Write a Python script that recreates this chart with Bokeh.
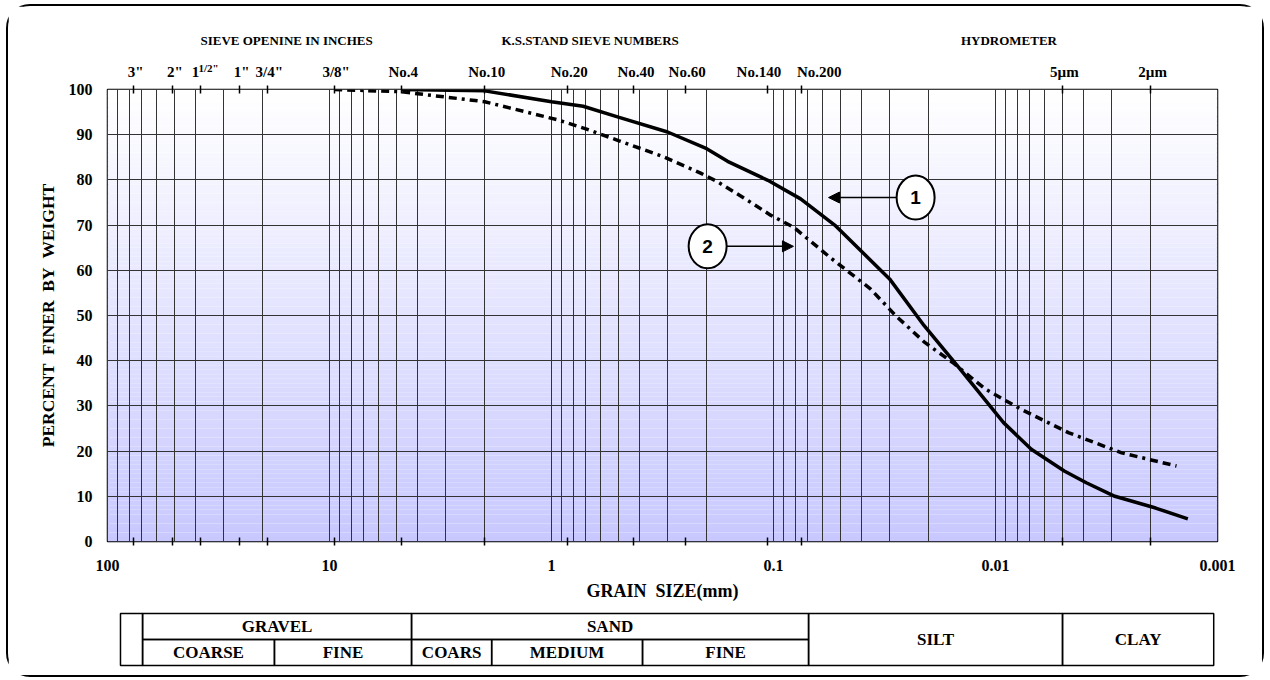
import numpy as np
from bokeh.plotting import figure
from bokeh.models import Range1d, FixedTicker, LogAxis, Arrow, NormalHead
from bokeh.layouts import column
from bokeh.embed import file_html
from bokeh.resources import INLINE
from bokeh.core.properties import value

# ---------------- data ----------------
curve1_size = [4.75, 2.0, 1.0, 0.72, 0.5, 0.3, 0.2, 0.161, 0.106, 0.0755, 0.053, 0.030,
               0.021, 0.0144, 0.0092, 0.0069, 0.0049, 0.0039, 0.0029, 0.0019, 0.00136]
curve1_pct = [100, 99.7, 97.3, 96.3, 93.9, 90.6, 86.9, 84.1, 79.9, 75.8, 70.0, 58.1,
              47.8, 38.1, 26.3, 20.4, 15.6, 13.0, 10.0, 7.4, 5.0]

curve2_size = [9.525, 4.75, 2.0, 0.94, 0.70, 0.5, 0.316, 0.213, 0.179, 0.136, 0.103, 0.081,
               0.0548, 0.0366, 0.0282, 0.0209, 0.0156, 0.0111, 0.0077, 0.0047, 0.0027, 0.00153]
curve2_pct = [100, 99.5, 97.3, 93.3, 91.3, 88.7, 85.2, 81.5, 79.6, 76.0, 72.2, 69.5,
              62.6, 55.9, 50.0, 44.1, 39.6, 33.7, 29.3, 24.1, 19.6, 16.7]

sieve_sizes = [76.2, 50.8, 38.1, 25.4, 19.05, 9.525, 4.75, 2.0, 0.85, 0.425, 0.25, 0.106, 0.075, 0.005, 0.002]
sieve_labels = ['3"', '2"', '1', '1"', '3/4"', '3/8"', 'No.4', 'No.10', 'No.20',
                'No.40', 'No.60', 'No.140', 'No.200', '5\u00b5m', '2\u00b5m']
half_inch_size = [38.1]
half_inch_label = ['1/2"']
decades = [100, 10, 1, 0.1, 0.01, 0.001]
decade_labels = ["100", "10", "1", "0.1", "0.01", "0.001"]
pct_ticks = [0, 10, 20, 30, 40, 50, 60, 70, 80, 90, 100]
section_titles = ["SIEVE OPENINE IN INCHES", "K.S.STAND SIEVE NUMBERS", "HYDROMETER"]
section_title_size = [15.6, 0.67, 0.0087]

callout_labels = ["1", "2"]
callout_size = [0.0229, 0.198]
callout_pct = [76.1, 65.3]
arrow_start = [0.0279, 0.163]
arrow_tip = [0.0565, 0.0813]

# classification table (boundaries in mm)
table_outer = [87.4, 69.5]
top_names = ["GRAVEL", "SAND"]
top_bounds = [(69.5, 4.27), (4.27, 0.0695)]
full_names = ["SILT", "CLAY"]
full_bounds = [(0.0695, 0.00499), (0.00499, 0.00104)]
sub_names = ["COARSE", "FINE", "COARS", "MEDIUM", "FINE"]
sub_bounds = [(69.5, 17.7), (17.7, 4.27), (4.27, 1.86), (1.86, 0.389), (0.389, 0.0695)]

SERIF = "Liberation Serif"
NB = "\u00a0"
W = 1254
ML, MR = 99, 45
HH = 74  # header height (page y 6 .. 80)

x_rng = Range1d(100, 0.001)


def bare(fig):
    fig.outline_line_color = None
    fig.background_fill_color = "white"
    fig.border_fill_color = "white"
    fig.grid.visible = False


# ---------------- header (titles + sieve names) ----------------
h = figure(width=W, height=HH, x_axis_type="log", x_range=x_rng, y_range=Range1d(0, HH),
           output_backend="svg", toolbar_location=None, x_axis_location=None, y_axis_location=None,
           min_border_left=ML, min_border_right=MR, min_border_top=0, min_border_bottom=0)
bare(h)
h.text(x=section_title_size, y=[HH - 34] * 3, text=section_titles, text_font=value(SERIF),
       text_font_style="bold", text_font_size="13px", text_align="center", text_baseline="middle")
label_shift = {'1': -5, 'No.140': -9, 'No.200': 18}
h.text(x=sieve_sizes, y=[HH - 65] * len(sieve_sizes), text=sieve_labels, text_font=value(SERIF),
       text_font_style="bold", text_font_size="15px", text_align="center", text_baseline="middle",
       x_offset=[label_shift.get(l, 2) for l in sieve_labels])
h.text(x=half_inch_size, y=[HH - 61], text=half_inch_label, text_font=value(SERIF),
       text_font_style="bold", text_font_size="11px", text_align="left", text_baseline="middle",
       x_offset=-2)

# ---------------- main chart ----------------
p = figure(width=W, height=525, x_axis_type="log", x_range=x_rng, y_range=Range1d(0, 100),
           output_backend="svg", toolbar_location=None,
           min_border_left=ML, min_border_right=MR, min_border_top=9, min_border_bottom=64)
p.background_fill_color = "white"
p.border_fill_color = "white"
p.outline_line_color = "black"
p.outline_line_width = 1.5

# gradient background (styling bands)
nb = 100
b0 = np.linspace(0, 100, nb + 1)[:-1]
b1 = np.linspace(0, 100, nb + 1)[1:]
cols = []
for f in (b0 + b1) / 200.0:
    r = int(round(200 + 55 * f))
    cols.append("#%02x%02x%02x" % (r, r, 255))
p.quad(left=[100] * nb, right=[0.001] * nb, bottom=b0, top=b1, fill_color=cols,
       line_color=None, level="image")

# grids
grid_sizes = [m * 10.0 ** e for e in range(-3, 2) for m in range(1, 10)] + [100]
p.xgrid.ticker = FixedTicker(ticks=grid_sizes)
p.ygrid.ticker = FixedTicker(ticks=pct_ticks)
for g in (p.xgrid, p.ygrid):
    g.grid_line_color = "#333333"
    g.grid_line_width = 1
    g.grid_line_alpha = 1

# bottom axis
xa = p.xaxis[0]
xa.ticker = FixedTicker(ticks=decades, minor_ticks=sieve_sizes)
xa.major_label_overrides = {d: l for d, l in zip(decades, decade_labels)}
xa.major_tick_line_color = None
xa.major_tick_in = 0
xa.major_tick_out = 0
xa.minor_tick_in = 4
xa.minor_tick_out = 4
xa.minor_tick_line_width = 1.5
xa.minor_tick_line_color = "black"
xa.axis_line_color = None
xa.major_label_standoff = 14
xa.major_label_text_font = SERIF
xa.major_label_text_font_style = "bold"
xa.major_label_text_font_size = "16px"
xa.major_label_text_color = "black"
xa.axis_label = "GRAIN" + NB + NB + "SIZE(mm)"
xa.axis_label_text_font = SERIF
xa.axis_label_text_font_style = "bold"
xa.axis_label_text_font_size = "18px"
xa.axis_label_text_color = "black"
xa.axis_label_standoff = 7

# left axis
ya = p.yaxis[0]
ya.ticker = FixedTicker(ticks=pct_ticks)
ya.major_tick_line_color = None
ya.major_tick_in = 0
ya.major_tick_out = 0
ya.minor_tick_line_color = None
ya.axis_line_color = None
ya.major_label_standoff = 15
ya.major_label_text_font = SERIF
ya.major_label_text_font_style = "bold"
ya.major_label_text_font_size = "16px"
ya.major_label_text_color = "black"
ya.axis_label = (NB + NB).join(["PERCENT", "FINER", "BY", "WEIGHT"])
ya.axis_label_text_font = SERIF
ya.axis_label_text_font_style = "bold"
ya.axis_label_text_font_size = "17.5px"
ya.axis_label_text_color = "black"
ya.axis_label_standoff = 8

# top tick marks at sieve sizes
ta = LogAxis(ticker=FixedTicker(ticks=sieve_sizes),
             major_label_overrides={s: "" for s in sieve_sizes})
ta.major_tick_in = 4
ta.major_tick_out = 4
ta.major_tick_line_width = 1.5
ta.major_tick_line_color = "black"
ta.minor_tick_line_color = None
ta.axis_line_color = None
ta.major_label_standoff = 0
ta.major_label_text_font_size = "0px"
p.add_layout(ta, "above")

# curves
p.line(curve1_size, curve1_pct, line_color="black", line_width=3.5)
p.line(curve2_size, curve2_pct, line_color="black", line_width=3.5, line_dash="8 5 8 5 3 5")

# callouts
for xs, xe, yy in zip(arrow_start, arrow_tip, callout_pct):
    p.add_layout(Arrow(end=NormalHead(size=11, fill_color="black", line_color="black"),
                       x_start=xs, y_start=yy, x_end=xe, y_end=yy,
                       line_color="black", line_width=1.5))
p.ellipse(x=callout_size, y=callout_pct, width=38, height=44, width_units="screen",
          height_units="screen", fill_color="white", line_color="black", line_width=2)
p.text(x=callout_size, y=callout_pct, text=callout_labels, text_font=value("Liberation Sans"),
       text_font_style="bold", text_font_size="19px", text_align="center", text_baseline="middle")

# ---------------- classification table ----------------
t = figure(width=W, height=70, x_axis_type="log", x_range=x_rng, y_range=Range1d(-0.08, 2.08),
           output_backend="svg", toolbar_location=None, x_axis_location=None, y_axis_location=None,
           min_border_left=ML, min_border_right=MR, min_border_top=6, min_border_bottom=8)
bare(t)

L, R, B, T = [], [], [], []
L.append(table_outer[0]); R.append(table_outer[1]); B.append(0); T.append(2)
for (a, b) in top_bounds:
    L.append(a); R.append(b); B.append(1); T.append(2)
for (a, b) in full_bounds:
    L.append(a); R.append(b); B.append(0); T.append(2)
for (a, b) in sub_bounds:
    L.append(a); R.append(b); B.append(0); T.append(1)
t.quad(left=L, right=R, bottom=B, top=T, fill_color=None, line_color="black", line_width=1.5)

tx, ty, tt = [], [], []
for n, (a, b) in zip(top_names, top_bounds):
    tx.append(np.sqrt(a * b)); ty.append(1.5); tt.append(n)
for n, (a, b) in zip(full_names, full_bounds):
    tx.append(np.sqrt(a * b)); ty.append(1.0); tt.append(n)
for n, (a, b) in zip(sub_names, sub_bounds):
    tx.append(np.sqrt(a * b)); ty.append(0.5); tt.append(n)
t.text(x=tx, y=ty, text=tt, text_font=value(SERIF), text_font_style="bold",
       text_font_size="17px", text_align="center", text_baseline="middle")

layout = column(h, p, t, spacing=0,
                styles={"border": "2px solid black", "border-radius": "24px",
                        "margin": "4px 0 0 6px"})

open("out.html", "w").write(file_html(layout, INLINE))
